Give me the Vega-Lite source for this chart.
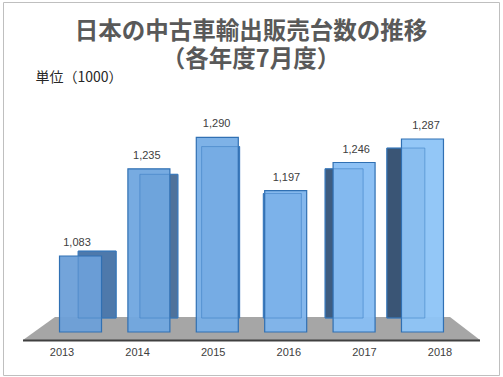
{
  "$schema": "https://vega.github.io/schema/vega-lite/v6.json",
  "width": 496,
  "height": 373,
  "autosize": {"type": "none"},
  "padding": {"left": 3, "top": 2, "right": 4, "bottom": 2},
  "background": "white",
  "view": {"stroke": "#bfbfbf", "strokeWidth": 1},
  "title": {
    "text": ["日本の中古車輸出販売台数の推移", "（各年度7月度）"],
    "anchor": "middle",
    "frame": "group",
    "offset": -69,
    "font": "Noto Sans CJK JP",
    "fontSize": 23.5,
    "fontWeight": "bold",
    "color": "#595959",
    "lineHeight": 28
  },
  "data": {
    "values": [
      {"year": 2013, "value": 1083},
      {"year": 2014, "value": 1235},
      {"year": 2015, "value": 1290},
      {"year": 2016, "value": 1197},
      {"year": 2017, "value": 1246},
      {"year": 2018, "value": 1287}
    ]
  },
  "resolve": {"scale": {"x": "independent", "y": "independent", "color": "independent", "fill": "independent"}},
  "layer": [
    {
      "data": {"values": [{}]},
      "mark": {"type": "point", "filled": true, "shape": "M-1,0.0503 L1,0.0503 L0.8687,-0.0503 L-0.86,-0.0503 Z", "size": 208849, "color": "#a6a6a6", "opacity": 1, "strokeWidth": 0},
      "encoding": {
        "x": {"datum": 2015.5, "type": "quantitative", "scale": {"domain": [2011.9398, 2019.0458], "nice": false, "zero": false}, "axis": null},
        "y": {"datum": 956.58, "type": "quantitative", "scale": {"domain": [875.5, 1525.89], "nice": false, "zero": false}, "axis": null}
      }
    },
    {
      "data": {"values": [{}]},
      "mark": {"type": "rule", "color": "#404040", "strokeWidth": 2},
      "encoding": {
        "x": {"datum": 2012.2264, "type": "quantitative", "scale": {"domain": [2011.9398, 2019.0458], "nice": false, "zero": false}, "axis": null},
        "x2": {"datum": 2018.7736},
        "y": {"datum": 935.66, "type": "quantitative", "scale": {"domain": [875.5, 1525.89], "nice": false, "zero": false}, "axis": null}
      }
    },
    {
      "mark": {"type": "bar", "width": 38, "stroke": "#3070b3", "strokeWidth": 1},
      "encoding": {
        "x": {"field": "year", "type": "quantitative", "scale": {"domain": [2011.5556, 2019.4286], "nice": false, "zero": false}, "axis": null},
        "y": {"field": "value", "type": "quantitative", "scale": {"domain": [837.63, 1576.24], "nice": false, "zero": false}, "axis": null},
        "y2": {"datum": 950.5},
        "fill": {"field": "year", "type": "ordinal", "scale": {"range": ["#4e79ab", "#4f729b", "#5c8ec4", "#5588bf", "#3d5c80", "#3a5575"]}, "legend": null}
      }
    },
    {
      "mark": {"type": "bar", "width": 42, "stroke": "#3070b3", "strokeWidth": 1.2, "fillOpacity": 0.95},
      "encoding": {
        "x": {"field": "year", "type": "quantitative", "scale": {"domain": [2011.9398, 2019.0458], "nice": false, "zero": false}, "axis": null},
        "y": {"field": "value", "type": "quantitative", "scale": {"domain": [875.5, 1525.89], "nice": false, "zero": false},
          "axis": {"title": "単位（1000）", "labels": false, "ticks": false, "domain": false, "grid": false, "titleAngle": 0, "titleX": 32, "titleY": 75, "titleAlign": "left", "titleBaseline": "middle", "titleFont": "Noto Sans CJK JP", "titleFontSize": 14, "titleFontWeight": "normal", "titleColor": "#262626"}},
        "y2": {"datum": 950.5},
        "fill": {"field": "year", "type": "ordinal", "scale": {"range": ["#6b9fd8", "#70a6df", "#77aee6", "#7eb4ec", "#87bef4", "#8dc4f7"]}, "legend": null}
      }
    },
    {
      "mark": {"type": "bar", "width": 38, "fill": "transparent", "stroke": "#3f7fc2", "strokeWidth": 1, "strokeOpacity": 0.55},
      "encoding": {
        "x": {"field": "year", "type": "quantitative", "scale": {"domain": [2011.5556, 2019.4286], "nice": false, "zero": false}, "axis": null},
        "y": {"field": "value", "type": "quantitative", "scale": {"domain": [837.63, 1576.24], "nice": false, "zero": false}, "axis": null},
        "y2": {"datum": 950.5}
      }
    },
    {
      "mark": {"type": "text", "dy": -13, "baseline": "middle", "align": "center", "font": "Liberation Sans", "fontSize": 11, "color": "#404040"},
      "encoding": {
        "x": {"field": "year", "type": "quantitative", "scale": {"domain": [2011.9398, 2019.0458], "nice": false, "zero": false}, "axis": null},
        "y": {"field": "value", "type": "quantitative", "scale": {"domain": [875.5, 1525.89], "nice": false, "zero": false}, "axis": null},
        "text": {"field": "value", "type": "quantitative", "format": ","}
      }
    },
    {
      "mark": {"type": "text", "baseline": "middle", "align": "center", "font": "Liberation Sans", "fontSize": 11, "color": "#404040"},
      "encoding": {
        "x": {"field": "year", "type": "quantitative", "scale": {"domain": [2012.2196, 2018.7804], "nice": false, "zero": false}, "axis": null},
        "y": {"datum": 913.86, "type": "quantitative", "scale": {"domain": [875.5, 1525.89], "nice": false, "zero": false}, "axis": null},
        "text": {"field": "year", "type": "nominal"}
      }
    }
  ]
}
